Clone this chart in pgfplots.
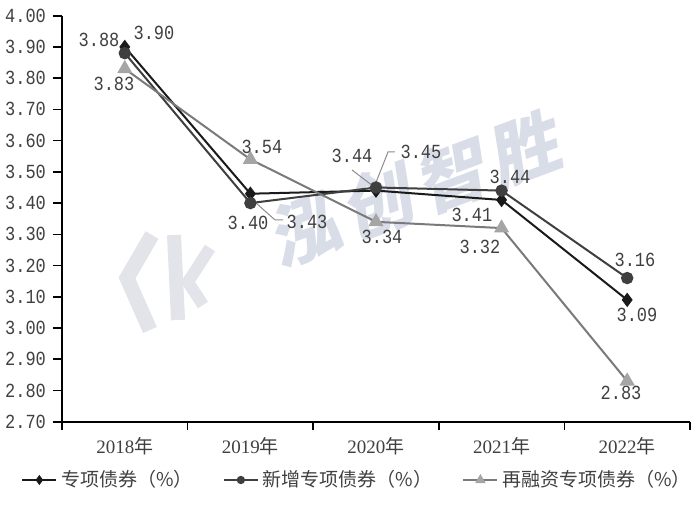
\documentclass[border=0pt]{standalone}
\usepackage{fontspec}
\usepackage{pgfplots}
\pgfplotsset{compat=1.18}
\setmainfont{Liberation Serif}
\newfontfamily\cjk{Noto Sans CJK SC}
\newfontfamily\numfont[FakeStretch=0.85]{Liberation Mono}
\definecolor{cA}{HTML}{1A1A1A}
\definecolor{cB}{HTML}{3F3F3F}
\definecolor{cC}{HTML}{7A7A7A}
\definecolor{cCm}{HTML}{A5A5A5}
\definecolor{txt}{HTML}{404040}
\definecolor{wm}{HTML}{D9DDE8}
\definecolor{wl}{HTML}{E2E4EA}
\begin{document}
\begin{tikzpicture}
\path[use as bounding box] (-31pt,-44.65pt) rectangle (315pt,210.85pt);
% watermark logo (approximate)
\draw[wl, line width=7.5pt, line join=miter] (45pt,93.35pt) -- (32.5pt,71.85pt) -- (44pt,45.85pt);
\draw[wl, line width=7pt] (56pt,93.35pt) -- (58pt,50.85pt);
\draw[wl, line width=6pt, line join=miter] (74pt,86.85pt) -- (63pt,69.85pt) -- (70.5pt,58.35pt);
% watermark text
\node[rotate=20.4, xslant=0.2, text=wm, font=\cjk\bfseries\fontsize{35}{35}\selectfont, inner sep=0pt] at (178pt,117pt) {泓\hspace{4pt}创\hspace{4pt}智\hspace{4pt}胜};
\begin{axis}[
  at={(0pt,0pt)}, anchor=south west,
  scale only axis, width=314pt, height=203pt,
  clip=false,
  xmin=-0.5, xmax=4.5, ymin=2.70, ymax=4.00,
  axis lines*=left,
  axis line style={black, line width=0.8pt},
  tick style={black, line width=0.8pt},
  tick align=outside,
  major tick length=4.5pt,
  minor tick length=4pt,
  xtick={0,1,2,3,4},
  xticklabels={2018{\cjk 年},2019{\cjk 年},2020{\cjk 年},2021{\cjk 年},2022{\cjk 年}},
  major x tick style={draw=none},
  minor xtick={-0.5,0.5,1.5,2.5,3.5,4.5},
  ytick={2.7,2.8,2.9,3.0,3.1,3.2,3.3,3.4,3.5,3.6,3.7,3.8,3.9,4.0},
  /pgf/number format/fixed,
  /pgf/number format/fixed zerofill,
  /pgf/number format/precision=2,
  /pgf/number format/assume math mode=true,
  yticklabel style={font=\numfont\fontsize{10}{12}\selectfont, text=txt},
  xticklabel style={font=\fontsize{9.5}{11}\selectfont, text=txt},
  legend style={at={(-0.0653,-0.1436)}, anchor=west, legend columns=-1, draw=none, fill=none,
    inner sep=0pt, font=\cjk\fontsize{9.5}{11}\selectfont, text=txt,
    /tikz/every even column/.append style={column sep=13pt}},
  legend cell align=left,
  legend image code/.code={\draw[mark repeat=2,mark phase=2,every mark/.append style={scale=0.6}] plot coordinates {(0pt,0pt)(8.5pt,0pt)(17pt,0pt)};},
]
\addplot[cA, line width=1pt, mark=diamond*, mark size=2.8pt, mark options={fill=cA, solid}] coordinates {(0,3.90)(1,3.43)(2,3.44)(3,3.41)(4,3.09)};
\addlegendentry{专项债券（\%）}
\addplot[cB, line width=1pt, mark=*, mark size=2.6pt, mark options={fill=cB, solid}] coordinates {(0,3.88)(1,3.40)(2,3.45)(3,3.44)(4,3.16)};
\addlegendentry{新增专项债券（\%）}
\addplot[cC, line width=1pt, mark=triangle*, mark size=3.4pt, mark options={fill=cCm, draw=cCm, solid}] coordinates {(0,3.83)(1,3.54)(2,3.34)(3,3.32)(4,2.83)};
\addlegendentry{再融资专项债券（\%）}
% leader lines
\draw[black!45, line width=0.5pt] (axis cs:0.99,3.42) -- (axis cs:1.196,3.346) -- (axis cs:1.26,3.346);
\draw[black!45, line width=0.5pt] (axis cs:1.992,3.458) -- (axis cs:2.096,3.564) -- (axis cs:2.151,3.564);
\draw[black!45, line width=0.5pt] (axis cs:1.809,3.506) -- (axis cs:1.985,3.452);
% data labels
\begin{scope}[every node/.style={font=\numfont\fontsize{10}{12}\selectfont, text=txt, inner sep=0pt}]
\node at (axis cs:-0.205,3.922) {3.88};
\node at (axis cs:0.2325,3.945) {3.90};
\node at (axis cs:-0.086,3.781) {3.83};
\node at (axis cs:1.092,3.580) {3.54};
\node at (axis cs:0.981,3.336) {3.40};
\node at (axis cs:1.451,3.339) {3.43};
\node at (axis cs:1.809,3.551) {3.44};
\node at (axis cs:2.358,3.564) {3.45};
\node at (axis cs:2.048,3.291) {3.34};
\node at (axis cs:3.067,3.484) {3.44};
\node at (axis cs:2.764,3.362) {3.41};
\node at (axis cs:2.828,3.259) {3.32};
\node at (axis cs:4.062,3.218) {3.16};
\node at (axis cs:4.078,3.042) {3.09};
\node at (axis cs:3.951,2.792) {2.83};
\end{scope}
\end{axis}
\end{tikzpicture}
\end{document}
